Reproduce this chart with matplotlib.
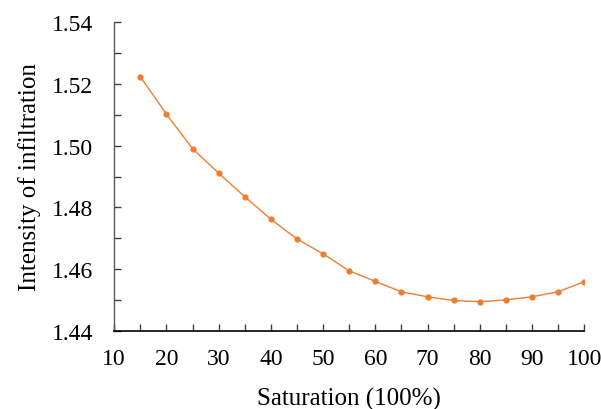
import numpy as np
import matplotlib
matplotlib.use('Agg')
import matplotlib.pyplot as plt
from matplotlib.ticker import MultipleLocator

saturation = [15, 20, 25, 30, 35, 40, 45, 50, 55, 60, 65, 70, 75, 80, 85, 90, 95, 100]
intensity = [1.5223, 1.5102, 1.4990, 1.4911, 1.4835, 1.4762, 1.4698, 1.4650, 1.4595, 1.4561,
             1.4527, 1.4511, 1.4499, 1.4495, 1.4501, 1.4511, 1.4527, 1.4560]

plt.rcParams['font.family'] = ['Liberation Serif', 'DejaVu Serif']

fig = plt.figure(figsize=(6.01, 4.10), dpi=100)
ax = fig.add_axes([0.19, 0.19, 0.782, 0.754])

ax.plot(saturation, intensity, color='#ED7D31', linewidth=1.0,
        marker='o', markersize=4.5, markeredgewidth=0)

ax.set_xlim(10, 100)
ax.set_ylim(1.44, 1.54)
ax.xaxis.set_major_locator(MultipleLocator(10))
ax.xaxis.set_minor_locator(MultipleLocator(5))
ax.yaxis.set_major_locator(MultipleLocator(0.02))
ax.yaxis.set_minor_locator(MultipleLocator(0.01))
ax.yaxis.set_major_formatter(plt.FormatStrFormatter('%.2f'))

for side in ['top', 'right']:
    ax.spines[side].set_visible(False)
ax.spines['left'].set_color('#595959')
ax.spines['bottom'].set_color('black')
ax.spines['left'].set_linewidth(1.0)
ax.spines['bottom'].set_linewidth(1.2)

ax.tick_params(which='both', direction='in', length=5, width=1, labelsize=17, colors='#404040')
ax.tick_params(axis='x', which='both', pad=12)
ax.tick_params(axis='y', which='both', pad=15)
for lab in ax.get_xticklabels() + ax.get_yticklabels():
    lab.set_color('black')

ax.set_xlabel('Saturation (100%)', fontsize=18, labelpad=13)
ax.set_ylabel('Intensity of infiltration', fontsize=18, labelpad=8)

fig.savefig('out.png', dpi=100)
